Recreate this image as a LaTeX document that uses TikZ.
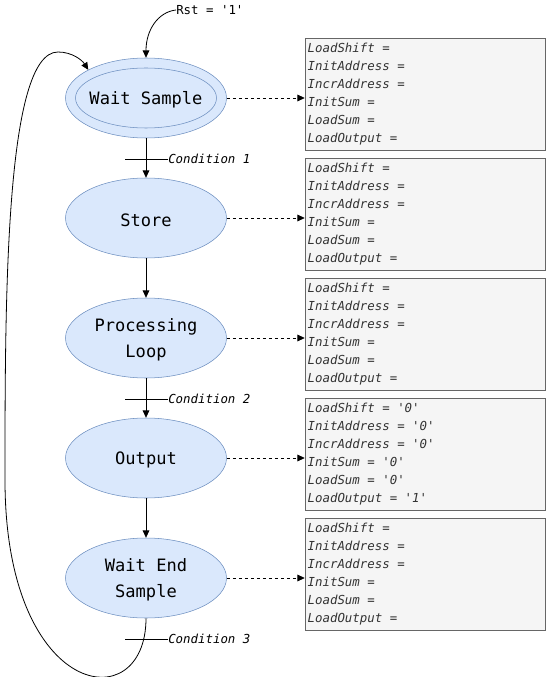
\documentclass[tikz,border=0pt]{standalone}
\usepackage{fontspec}
\usetikzlibrary{arrows.meta,shapes.geometric}
\newfontfamily\monof[ItalicFont={DejaVu Sans Mono Oblique}]{DejaVu Sans Mono}
\newcommand\monosp{\spaceskip=0.602em\relax\xspaceskip=0.602em\relax}
\definecolor{stfill}{HTML}{DAE8FC}
\definecolor{stdraw}{HTML}{6C8EBF}
\definecolor{bxfill}{HTML}{F5F5F5}
\definecolor{bxdraw}{HTML}{666666}
\definecolor{bxtext}{HTML}{333333}
\tikzset{
  state/.style={ellipse, draw=stdraw, fill=stfill, minimum width=120.75pt, minimum height=60pt, inner sep=0pt},
  instate/.style={ellipse, draw=stdraw, minimum width=105.75pt, minimum height=45pt, inner sep=0pt},
  sttext/.style={align=center, inner sep=0pt, yshift=-1.5pt, font=\monof\fontsize{12.8}{19.5}\selectfont},
  outbox/.style={rectangle, draw=bxdraw, fill=bxfill, minimum width=180pt, minimum height=84pt, inner sep=2pt, text width=176pt, align=left, text=bxtext, font=\monof\itshape\fontsize{9.3}{13.5}\selectfont, execute at begin node=\monosp},
  arr/.style={-{Triangle[length=5.5pt,width=5pt]}, line width=0.6pt},
  darr/.style={arr, dash pattern=on 2.25pt off 2.25pt},
  cond/.style={anchor=west, inner sep=0pt, font=\monof\itshape\fontsize{9.3}{11}\selectfont},
  tick/.style={line width=0.6pt}
}
\begin{document}
\begin{tikzpicture}[x=0.75pt,y=-0.75pt]
\useasboundingbox (0,0) rectangle (547,677);
% states
\node[state] (ws) at (146,98) {};
\node[instate] (wsi) at (146,98) {};
\node[sttext] (wst) at (ws.center) {Wait Sample};
\node[state] (st) at (146,218) {};
\node[sttext] (stt) at (st.center) {Store};
\node[state] (pl) at (146,338) {};
\node[sttext] (plt) at (pl.center) {Processing\\Loop};
\node[state] (op) at (146,458) {};
\node[sttext] (opt) at (op.center) {Output};
\node[state] (we) at (146,578) {};
\node[sttext] (wet) at (we.center) {Wait End\\Sample};
% boxes
\node[outbox] (b1) at (425,94) {LoadShift =\\InitAddress =\\IncrAddress =\\InitSum =\\LoadSum =\\LoadOutput =};
\node[outbox] (b2) at (425,214) {LoadShift =\\InitAddress =\\IncrAddress =\\InitSum =\\LoadSum =\\LoadOutput =};
\node[outbox] (b3) at (425,334) {LoadShift =\\InitAddress =\\IncrAddress =\\InitSum =\\LoadSum =\\LoadOutput =};
\node[outbox] (b4) at (425,454) {LoadShift = '0'\\InitAddress = '0'\\IncrAddress = '0'\\InitSum = '0'\\LoadSum = '0'\\LoadOutput = '1'};
\node[outbox] (b5) at (425,574) {LoadShift =\\InitAddress =\\IncrAddress =\\InitSum =\\LoadSum =\\LoadOutput =};
% dashed links
\draw[darr] (ws.east) -- (ws.east -| b1.west);
\draw[darr] (st.east) -- (st.east -| b2.west);
\draw[darr] (pl.east) -- (pl.east -| b3.west);
\draw[darr] (op.east) -- (op.east -| b4.west);
\draw[darr] (we.east) -- (we.east -| b5.west);
% transitions
\draw[arr] (ws.south) -- (st.north);
\draw[arr] (st.south) -- (pl.north);
\draw[arr] (pl.south) -- (op.north);
\draw[arr] (op.south) -- (we.north);
% conditions
\node[cond] (c1) at (168,159) {Condition 1};
\node[cond] (c2) at (168,399) {Condition 2};
\node[cond] (c3) at (168,639) {Condition 3};
\coordinate (t1) at (125,159);
\coordinate (t2) at (125,399);
\coordinate (t3) at (125,639);
\draw[tick] (t1) -- (c1.west);
\draw[tick] (t2) -- (c2.west);
\draw[tick] (t3) -- (c3.west);
% reset
\node[anchor=west, inner sep=0pt, font=\monof\fontsize{9.3}{11}\selectfont] (rst) at (176,10) {Rst = '1'};
\draw[arr] (rst.west) .. controls (158,12) and (146,30) .. (ws.north);
% loop back
\coordinate (lp1) at (5,480);
\coordinate (lp2) at (58,52);
\draw[arr] (we.south) .. controls (146,720) and (5,700) .. (lp1)
  .. controls (5,300) and (5,52) .. (lp2)
  .. controls (72,52) and (82,60) .. (ws.154);
\end{tikzpicture}
\end{document}
